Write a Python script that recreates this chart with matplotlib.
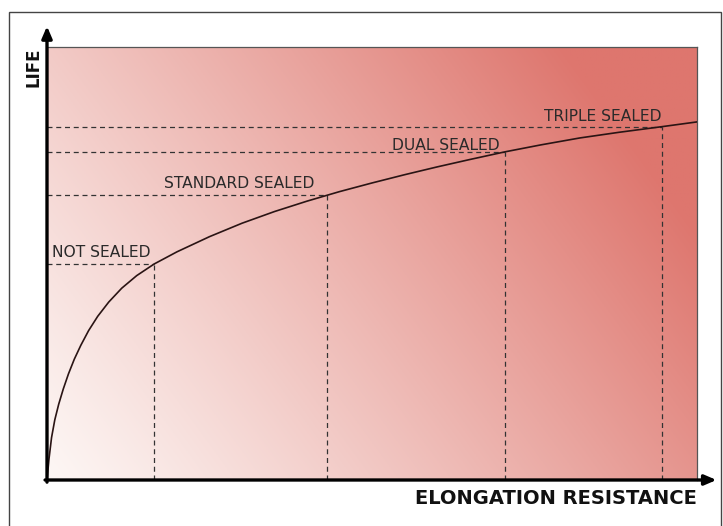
import numpy as np
import matplotlib
matplotlib.use("Agg")
import matplotlib.pyplot as plt
from matplotlib.patches import Rectangle

# curve (x: elongation resistance, y: life, 0..100 scale)
curve_x = [0, 0.3, 0.7, 1.2, 1.8, 2.5, 3.3, 4.2, 5.2, 6.4, 7.8, 9.5, 11.5,
           13.8, 16.5, 20, 25, 30, 35, 40, 45, 50, 55, 60, 65, 70.5, 76, 82,
           88, 94.6, 100]
curve_y = [0, 4.8, 9.8, 13.9, 17.5, 21.0, 24.5, 27.9, 31.1, 34.5, 37.8, 41.1,
           44.3, 47.2, 49.9, 52.7, 56.2, 59.3, 62.0, 64.4, 66.6, 68.6, 70.5,
           72.3, 74.0, 75.8, 77.4, 79.0, 80.3, 81.6, 82.7]

labels = ["NOT SEALED", "STANDARD SEALED", "DUAL SEALED", "TRIPLE SEALED"]
point_x = [16.5, 43.1, 70.5, 94.6]
point_y = [49.9, 65.9, 75.8, 81.6]

# text anchors (left, baseline)
label_pos = [(0.77, 51.5), (18.0, 67.4), (53.1, 76.1), (76.5, 82.8)]

W, H = 723, 526
fig = plt.figure(figsize=(W / 100, H / 100), dpi=100)
fig.patch.set_facecolor("white")

# outer frame
fig.patches.append(Rectangle((9 / W, -0.01), (721 - 9) / W, (526 - 12) / H + 0.01,
                             transform=fig.transFigure, fill=False,
                             edgecolor="#444444", lw=1.0))

ax = fig.add_axes([47 / W, (H - 480) / H, 650 / W, 433 / H])
ax.set_xlim(0, 100)
ax.set_ylim(0, 100)

# background gradient: white at origin -> red at top right
gx, gy = np.meshgrid(np.linspace(0, 1, 300), np.linspace(0, 1, 300))
t = np.clip(0.78 * gx + 0.38 * gy, 0, 1) ** 1.1
c0 = np.array([253, 247, 245]) / 255
c1 = np.array([222, 118, 110]) / 255
img = c0 + (c1 - c0) * t[..., None]
ax.imshow(img, extent=[0, 100, 0, 100], origin="lower", aspect="auto", zorder=0)

# dashed guides
for px, py in zip(point_x, point_y):
    ax.plot([0, px], [py, py], ls=(0, (4, 3)), color="#333333", lw=0.9, zorder=2)
    ax.plot([px, px], [0, py], ls=(0, (4, 3)), color="#333333", lw=0.9, zorder=2)

ax.plot(curve_x, curve_y, color="#2a1414", lw=1.2, zorder=3,
        solid_joinstyle="round")

for lab, (tx, ty) in zip(labels, label_pos):
    ax.text(tx, ty, lab, fontsize=11.2, color="#2a2a2a", ha="left", va="baseline",
            family="DejaVu Sans", zorder=4)

# frame: thin top/right, thick axes with arrows
for s in ["top", "right"]:
    ax.spines[s].set_color("#555555")
    ax.spines[s].set_linewidth(0.9)
for s in ["left", "bottom"]:
    ax.spines[s].set_visible(False)
ax.set_xticks([])
ax.set_yticks([])

ax.annotate("", xy=(103.0, 0), xytext=(-0.3, 0), xycoords="data",
            arrowprops=dict(arrowstyle="-|>,head_length=0.7,head_width=0.3",
                            color="black", lw=2.4, shrinkA=0, shrinkB=0),
            annotation_clip=False, zorder=5)
ax.annotate("", xy=(0, 104.8), xytext=(0, -0.5), xycoords="data",
            arrowprops=dict(arrowstyle="-|>,head_length=0.7,head_width=0.3",
                            color="black", lw=2.4, shrinkA=0, shrinkB=0),
            annotation_clip=False, zorder=5)

fig.text(697 / W, 1 - 498 / H, "ELONGATION RESISTANCE", ha="right", va="center",
         fontsize=14, fontweight="bold", family="DejaVu Sans", color="#111111")
fig.text(33 / W, 1 - 67 / H, "LIFE", ha="center", va="center", rotation=90,
         fontsize=12, fontweight="bold", family="DejaVu Sans", color="#111111")

fig.savefig("out.png", dpi=100)
